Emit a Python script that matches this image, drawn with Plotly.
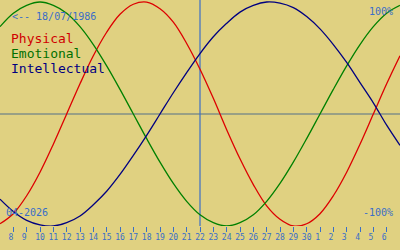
import plotly.graph_objects as go

# ---- data ----
days = list(range(7, 38))  # April 7 .. May 7 (31 = May 1)
physical = [-98, -89, -73, -52, -27, 0, 27, 52, 73, 89, 98, 100, 94, 82, 63, 40,
            14, -14, -40, -63, -82, -94, -100, -98, -89, -73, -52, -27, 0, 27, 52]
emotional = [78, 90, 97, 100, 97, 90, 78, 62, 43, 22, 0, -22, -43, -62, -78, -90,
             -97, -100, -97, -90, -78, -62, -43, -22, 0, 22, 43, 62, 78, 90, 97]
intellectual = [-76, -87, -95, -99, -100, -97, -91, -81, -69, -54, -37, -19, 0, 19, 37, 54,
                69, 81, 91, 97, 100, 99, 95, 87, 76, 62, 46, 28, 10, -10, -28]
tick_days = list(range(8, 37))
tick_labels = ["8", "9", "10", "11", "12", "13", "14", "15", "16", "17", "18", "19",
               "20", "21", "22", "23", "24", "25", "26", "27", "28", "29", "30",
               "1", "2", "3", "4", "5", "6"]
series_names = ["Physical", "Emotional", "Intellectual"]
today = 22
birth_label = "<-- 18/07/1986"
month_label = "04-2026"
top_label = "100%"
bottom_label = "-100%"

# ---- style ----
BG = "#E0D181"
BLUE = "#3a6ec8"
colors = ["#dd0000", "#008000", "#000080"]
MONO = "DejaVu Sans Mono"
W, H = 400, 250
PLOT_H = 226

fig = go.Figure()
for name, vals, col in zip(series_names, [physical, emotional, intellectual], colors):
    fig.add_trace(go.Scatter(x=days, y=vals, mode="lines", name=name,
                             line=dict(color=col, width=1.3, shape="spline", smoothing=1),
                             hoverinfo="skip", showlegend=False))

# reference lines
fig.add_shape(type="line", xref="paper", yref="y", x0=0, x1=1, y0=0, y1=0,
              line=dict(color="#52708a", width=1.2), layer="below")
fig.add_shape(type="line", xref="x", yref="paper", x0=today, x1=today, y0=0, y1=1,
              line=dict(color=BLUE, width=1.2), layer="below")

def py(p):
    return 1 - p / PLOT_H

ann = []
ann.append(dict(text=birth_label, x=10 / W, y=py(16.5), xanchor="left", yanchor="middle",
                font=dict(family=MONO, size=10, color=BLUE)))
for i, (name, col) in enumerate(zip(series_names, ["#d00000", "#007000", "#000080"])):
    ann.append(dict(text=name, x=9 / W, y=py(38 + 15 * i), xanchor="left", yanchor="middle",
                    font=dict(family=MONO, size=13, color=col)))
ann.append(dict(text=top_label, x=395 / W, y=py(11.5), xanchor="right", yanchor="middle",
                font=dict(family=MONO, size=10, color=BLUE)))
ann.append(dict(text=bottom_label, x=395 / W, y=py(212.5), xanchor="right", yanchor="middle",
                font=dict(family=MONO, size=10, color=BLUE)))
ann.append(dict(text=month_label, x=4 / W, y=py(212), xanchor="left", yanchor="middle",
                font=dict(family=MONO, size=10, color=BLUE)))
for a in ann:
    a.update(xref="paper", yref="paper", showarrow=False)

fig.update_layout(
    width=W, height=H,
    margin=dict(l=0, r=0, t=0, b=H - PLOT_H),
    paper_bgcolor=BG, plot_bgcolor=BG,
    annotations=ann,
    xaxis=dict(range=[7, 37], tickmode="array", tickvals=tick_days,
               ticktext=[t + "\u00a0" if len(t) == 1 else t for t in tick_labels],
               ticks="outside", ticklen=5, tickwidth=1, tickcolor=BLUE,
               ticklabelstandoff=-2,
               tickfont=dict(family=MONO, size=8, color=BLUE),
               showgrid=False, zeroline=False, showline=False, fixedrange=True),
    yaxis=dict(range=[-100, 101.8], visible=False, fixedrange=True),
)

fig.write_html("out.html")
